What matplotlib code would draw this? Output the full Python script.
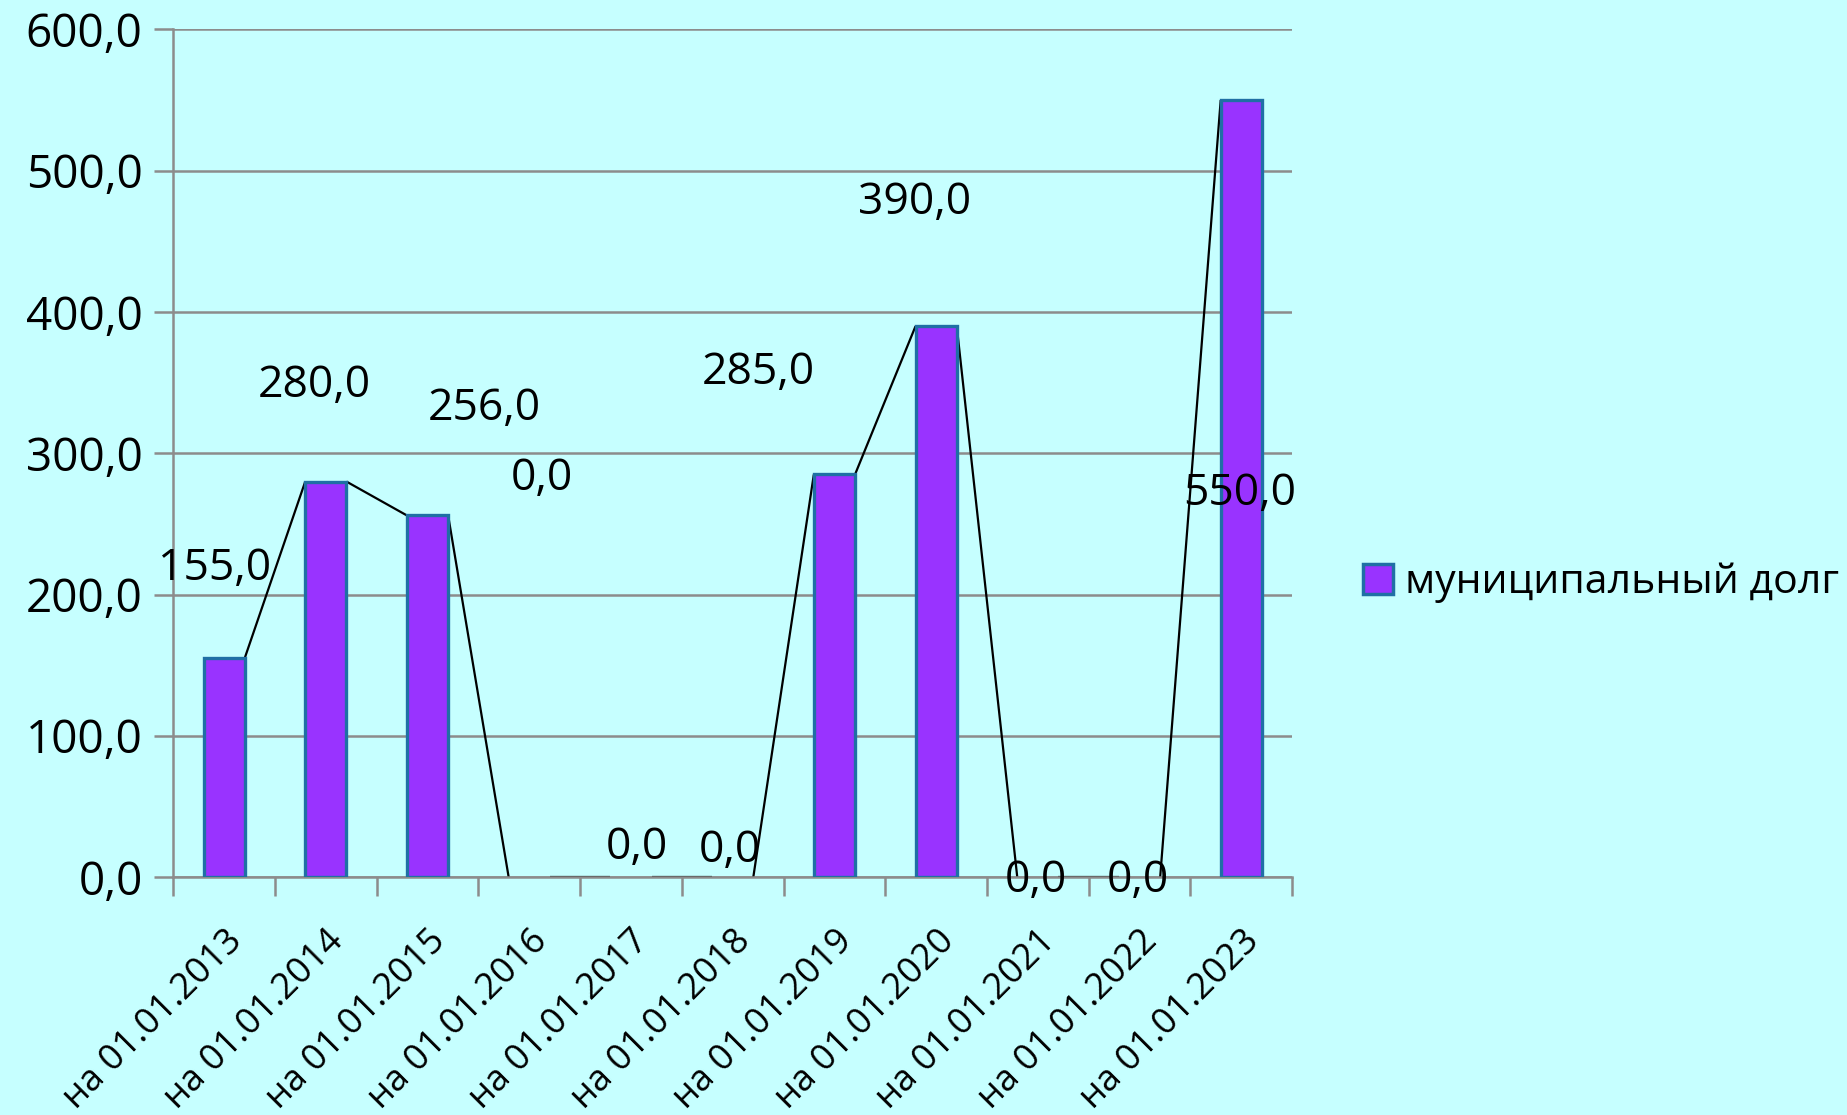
import matplotlib
matplotlib.use("Agg")
import matplotlib.pyplot as plt
from matplotlib.patches import Patch
from matplotlib.ticker import FuncFormatter, MultipleLocator, FixedLocator

categories = ["на 01.01.2013", "на 01.01.2014", "на 01.01.2015", "на 01.01.2016",
              "на 01.01.2017", "на 01.01.2018", "на 01.01.2019", "на 01.01.2020",
              "на 01.01.2021", "на 01.01.2022", "на 01.01.2023"]
values = [155.0, 280.0, 256.0, 0.0, 0.0, 0.0, 285.0, 390.0, 0.0, 0.0, 550.0]
series_name = "муниципальный долг"

# label placement (data coordinates) as in the original picture
label_x = [-0.095, 0.889, 2.556, 3.123, 4.06, 4.975, 5.252, 6.79, 7.984, 8.979, 9.986]
label_y = [218, 347.5, 331.7, 281.7, 20.8, 19, 356.7, 477.5, -2.5, -2.5, 271.7]

plt.rcParams['font.family'] = ['Open Sans', 'DejaVu Sans']

BG = '#C6FFFF'
BAR = '#9933FF'
EDGE = '#1F6FA5'
GRID = '#8C8C8C'

fig = plt.figure(figsize=(18.47, 11.15), dpi=100, facecolor=BG)
ax = fig.add_axes([0.0938, 0.2133, 0.6058, 0.7603])
ax.set_facecolor(BG)

w = 0.405
x = list(range(len(categories)))
lws = [2.4 if v > 0 else 0 for v in values]
ax.bar(x, values, width=w, color=BAR, edgecolor=EDGE, linewidth=lws, zorder=3)

# series lines connecting bar tops
for i in range(len(values) - 1):
    ax.plot([i + w / 2, i + 1 - w / 2], [values[i], values[i + 1]],
            color='black', linewidth=1.6, zorder=2, solid_capstyle='butt')

for xi, yi, v in zip(label_x, label_y, values):
    ax.text(xi, yi, f"{v:.1f}".replace('.', ','), ha='center', va='center',
            fontsize=32, color='black', zorder=5)

ax.set_xlim(-0.5, len(categories) - 0.5)
ax.set_ylim(0, 600)
ax.yaxis.set_major_locator(MultipleLocator(100))
ax.yaxis.set_major_formatter(FuncFormatter(lambda v, p: f"{v:.1f}".replace('.', ',')))
ax.grid(axis='y', color=GRID, linewidth=1.8, zorder=0)
ax.set_axisbelow(True)

ax.set_xticks(x)
ax.set_xticklabels(categories, rotation=45, ha='right', rotation_mode='anchor', fontsize=26)
ax.tick_params(axis='x', which='major', length=0, pad=33)
ax.xaxis.set_minor_locator(FixedLocator([i - 0.5 for i in range(len(categories) + 1)]))
ax.tick_params(axis='x', which='minor', length=14, width=1.8, color=GRID)
ax.tick_params(axis='y', length=14, width=1.8, color=GRID, labelsize=33, pad=8)

for s in ['top', 'right']:
    ax.spines[s].set_visible(False)
for s in ['left', 'bottom']:
    ax.spines[s].set_color(GRID)
    ax.spines[s].set_linewidth(1.8)
    ax.spines[s].set_zorder(2.5)

handle = Patch(facecolor=BAR, edgecolor=EDGE, linewidth=2.5)
fig.legend([handle], [series_name], loc='center left', bbox_to_anchor=(0.738, 0.477),
           frameon=False, fontsize=29.5, handlelength=0.72, handleheight=0.72,
           handletextpad=0.3, borderpad=0, borderaxespad=0)

fig.savefig("out.png", dpi=100, facecolor=BG)
